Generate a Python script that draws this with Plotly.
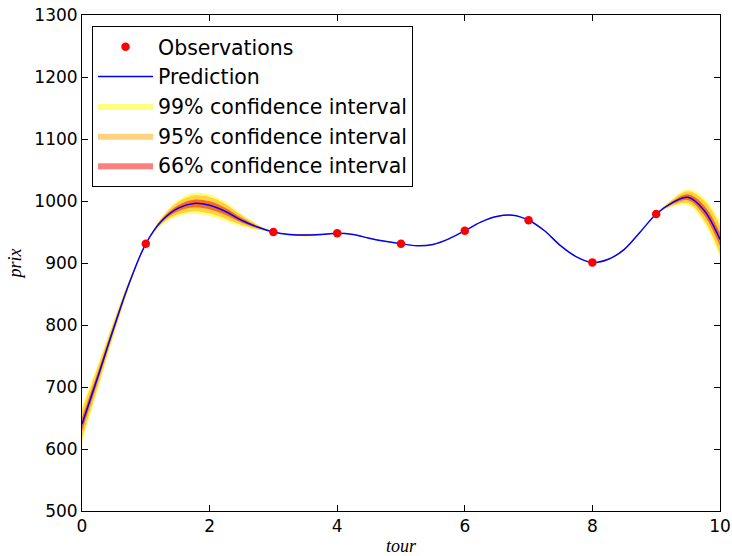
import plotly.graph_objects as go

# Observations
obs_x = [1, 3, 4, 5, 6, 7, 8, 9]
obs_y = [931, 950, 948, 931, 952, 969, 901, 979]

# Prediction
pred_x = [0, 0.25, 0.5, 0.75, 1, 1.25, 1.5, 1.75, 2, 2.25, 2.5, 2.75, 3,
          3.25, 3.5, 3.75, 4, 4.25, 4.5, 4.75, 5, 5.25, 5.5, 5.75, 6,
          6.25, 6.5, 6.75, 7, 7.25, 7.5, 7.75, 8, 8.25, 8.5, 8.75, 9,
          9.25, 9.5, 9.75, 10]
pred_y = [640, 717, 796, 870, 931, 968, 988, 996, 993, 983, 969, 958, 950,
          946, 945, 946, 948, 946, 940, 935, 931, 928, 930, 939, 952,
          966, 975, 977, 969, 952, 928, 910, 901, 906, 922, 950, 979,
          997, 1006, 985, 938]
pred_sd = [11.5, 8.0, 5.0, 2.2, 0.0, 2.5, 5.0, 6.5, 6.8, 6.0, 4.0, 1.8, 0.0,
           0.6, 0.9, 0.6, 0.0, 0.3, 0.4, 0.3, 0.0, 0.3, 0.4, 0.3, 0.0,
           0.3, 0.4, 0.3, 0.0, 0.3, 0.4, 0.3, 0.0, 0.3, 0.4, 0.3, 0.0,
           2.5, 5.0, 8.0, 11.5]

bands = [
    ("99% confidence interval", 2.576, "rgba(255,255,0,0.5)"),
    ("95% confidence interval", 1.960, "rgba(255,165,0,0.5)"),
    ("66% confidence interval", 0.954, "rgba(255,0,0,0.5)"),
]

x_ticks = [0, 2, 4, 6, 8, 10]
y_ticks = [500, 600, 700, 800, 900, 1000, 1100, 1200, 1300]

fig = go.Figure()

for rank, (name, z, color) in enumerate(bands):
    lower = [m - z * s for m, s in zip(pred_y, pred_sd)]
    upper = [m + z * s for m, s in zip(pred_y, pred_sd)]
    fig.add_trace(go.Scatter(x=pred_x, y=lower, mode="lines",
                             line=dict(width=0, shape="spline"),
                             showlegend=False, hoverinfo="skip"))
    fig.add_trace(go.Scatter(x=pred_x, y=upper, mode="lines",
                             line=dict(width=0, shape="spline"),
                             fill="tonexty", fillcolor=color, name=name,
                             legendrank=3 + rank))

fig.add_trace(go.Scatter(x=pred_x, y=pred_y, mode="lines", name="Prediction",
                         line=dict(color="#0000ff", width=1.5, shape="spline"),
                         legendrank=2))
fig.add_trace(go.Scatter(x=obs_x, y=obs_y, mode="markers", name="Observations",
                         marker=dict(color="#ff0000", size=8.5),
                         legendrank=1))

axis_common = dict(showline=True, linecolor="black", linewidth=1, mirror="ticks",
                   ticks="inside", ticklen=6, tickcolor="black", tickwidth=1,
                   showgrid=False, zeroline=False, automargin=False,
                   tickfont=dict(family="DejaVu Sans", size=17, color="black"))

fig.update_layout(
    width=732, height=556,
    margin=dict(l=82, r=12, t=15, b=45),
    paper_bgcolor="white", plot_bgcolor="white",
    xaxis=dict(range=[0, 10], tickvals=x_ticks,
               title=dict(text="<i>tour</i>", standoff=10,
                          font=dict(family="Liberation Serif", size=18, color="black")),
               **axis_common),
    yaxis=dict(range=[500, 1300], tickvals=y_ticks,
               title=dict(text="<i>prix</i>", standoff=8,
                          font=dict(family="Liberation Serif", size=18, color="black")),
               **axis_common),
    legend=dict(x=0.0157, y=0.978, xanchor="left", yanchor="top",
                traceorder="normal", itemwidth=55,
                bgcolor="white", bordercolor="black", borderwidth=1,
                font=dict(family="DejaVu Sans", size=20.5, color="black")),
    showlegend=True,
)

fig.write_html("out.html",
               config={"displayModeBar": False},
               post_script="document.body.style.margin='0';"
                           "document.body.style.overflow='hidden';")
